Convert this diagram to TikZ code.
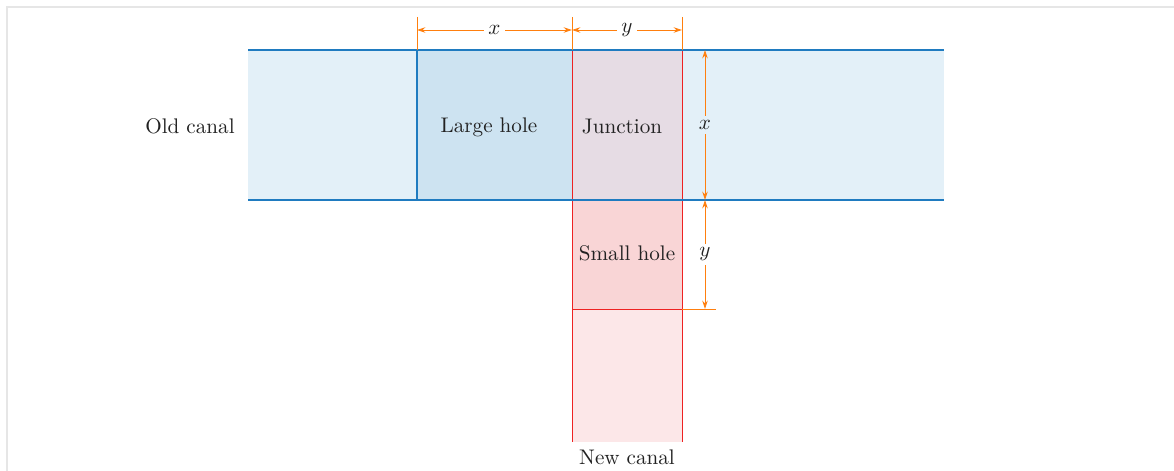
\documentclass[tikz,border=0pt]{standalone}
\usetikzlibrary{arrows.meta}
\definecolor{bandfill}{HTML}{E3F0F8}
\definecolor{largefill}{HTML}{CDE3F1}
\definecolor{junctfill}{HTML}{E6DCE4}
\definecolor{smallfill}{HTML}{F9D5D6}
\definecolor{newfill}{HTML}{FCE7E8}
\definecolor{canalblue}{HTML}{1F7BC0}
\definecolor{dimorange}{HTML}{FF7F0E}
\definecolor{canalred}{HTML}{EE2222}
\definecolor{txt}{HTML}{222222}
\definecolor{frame}{HTML}{E6E6E6}
\begin{document}
\begin{tikzpicture}[x=0.473pt,y=-0.473pt,
  lbl/.style={text=txt,inner sep=1pt},
  dimline/.style={dimorange,line width=0.4pt,{Stealth[length=4pt,width=2.6pt]}-{Stealth[length=4pt,width=2.6pt]}},
  extline/.style={dimorange,line width=0.4pt},
  dimlbl/.style={fill=white,text=txt,inner sep=2pt}]
\useasboundingbox (0,0) rectangle (1174,471);
\draw[frame,line width=1pt] (7,471) -- (7,7) -- (1174,7);
% fills
\fill[bandfill] (248,50) rectangle (944,200);
\fill[largefill] (417,50) rectangle (572,200);
\fill[junctfill] (572,50) rectangle (682,200);
\fill[smallfill] (572,200) rectangle (682,309);
\fill[newfill] (572,309) rectangle (682,442);
% coordinates
\coordinate (bl) at (248,50); \coordinate (br) at (944,50);
\coordinate (bbl) at (248,200); \coordinate (bbr) at (944,200);
\coordinate (lt) at (417,50); \coordinate (lb) at (417,200);
\coordinate (rlt) at (572,50); \coordinate (rlb) at (572,442);
\coordinate (rrt) at (682,50); \coordinate (rrb) at (682,442);
\coordinate (sl) at (572,309); \coordinate (sr) at (682,309);
% lines
\draw[canalblue,line width=0.6pt] (lt) -- (lb);
\draw[canalred,line width=0.45pt] (sl) -- (sr);
\draw[canalred,line width=0.45pt] (rlt) -- (rlb);
\draw[canalred,line width=0.45pt] (rrt) -- (rrb);
\draw[canalblue,line width=0.5pt] (bl) -- (br);
\draw[canalblue,line width=0.5pt] (bbl) -- (bbr);
% labels
\node[lbl] (old) at (190,126) {Old canal};
\node[lbl] (large) at (489,127) {Large hole};
\node[lbl] (junc) at (622,127) {Junction};
\node[lbl] (small) at (627,253) {Small hole};
\node[lbl] (new) at (627,457) {New canal};
% top dimensions
\coordinate (e1t) at (417,17); \coordinate (e2t) at (572,17); \coordinate (e3t) at (682,17);
\draw[extline] (e1t) -- (lt);
\draw[extline] (e2t) -- (rlt);
\draw[extline] (e3t) -- (rrt);
\coordinate (a1) at (417,30); \coordinate (a2) at (572,30); \coordinate (a3) at (682,30);
\draw[dimline] (a1) -- node[dimlbl] {$x$} (a2);
\draw[dimline] (a2) -- node[dimlbl] {$y$} (a3);
% right dimensions
\coordinate (ex) at (716,309);
\draw[extline] (sr) -- (ex);
\coordinate (b1) at (705,50); \coordinate (b2) at (705,200); \coordinate (b3) at (705,309);
\draw[dimline] (b1) -- node[dimlbl,fill=bandfill] {$x$} (b2);
\draw[dimline] (b2) -- node[dimlbl] {$y$} (b3);
\end{tikzpicture}
\end{document}
